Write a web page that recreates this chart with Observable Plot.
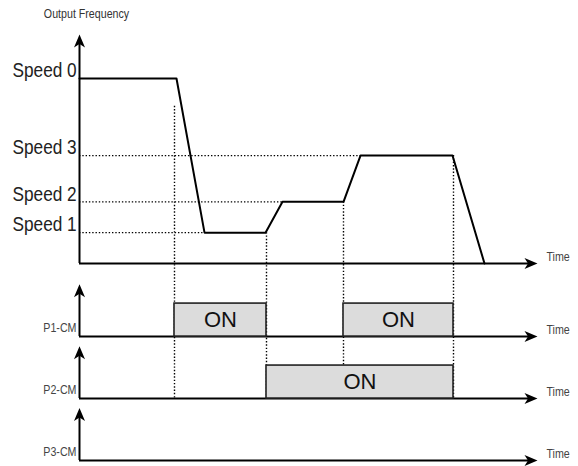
<!DOCTYPE html>
<html><head><meta charset="utf-8">
<script src="https://cdn.jsdelivr.net/npm/d3@7"></script>
<script src="https://cdn.jsdelivr.net/npm/@observablehq/plot@0.6"></script>
<style>html,body{margin:0;padding:0;background:#fff;}</style>
</head><body><div id="chart"></div>
<script>
// ---- data ----
const speedNames = ["Speed 0", "Speed 1", "Speed 2", "Speed 3"];
const speedValues = [60, 10, 20, 35];
const speedReached = [0, 12.5, 20.3, 28.1];
const profileTime = [0, 9.7, 12.5, 18.6, 20.3, 26.4, 28.1, 37.3, 40.5];
const profileFreq = [60, 60, 10, 10, 20, 20, 35, 35, 0];
const switchTimes = [9.5, 18.7, 26.4, 37.4];
const switchFrom = [51, 10, 20, 35];
const signalNames = ["P1-CM", "P2-CM", "P3-CM"];
const onStarts = [[9.5, 26.4], [18.7], []];
const onEnds = [[18.7, 37.4], [37.4], []];
const onText = "ON";
const timeText = "Time";
const yTitle = "Output Frequency";
const timeEnd = 45.8;

// ---- layout ----
const W = 578, H = 466;
const k = 185 / 60;             // px per unit in y
const base0 = 263;              // px of main baseline
const laneBase = [-23.7, -43.8, -63.9];
const onH = 10.7;
const mainTop = 74.3, laneTop = 17;
const font = "'Liberation Sans', Arial, sans-serif";

const refs = speedNames.slice(1).map((n, i) => ({f: speedValues[i + 1], t: speedReached[i + 1]}));
const profile = profileTime.map((t, i) => ({t, f: profileFreq[i]}));
const p2top = laneBase[1] + onH;
const switchTo = [laneBase[1], laneBase[1], p2top, laneBase[1]];
const switches = switchTimes.map((t, i) => ({t, y1: switchFrom[i], y2: switchTo[i]}));
const boxes = [];
onStarts.forEach((arr, j) => arr.forEach((s, i) => boxes.push({x1: s, x2: onEnds[j][i], y1: laneBase[j], y2: laneBase[j] + onH})));
const baselines = [0, ...laneBase];
const tops = [mainTop, laneTop, laneTop, laneTop].map((h, i) => baselines[i] + h);
const xHeadBack = 0.7, yHeadBack = 2.5;

const arrowUp = {draw(ctx) { ctx.moveTo(0, 0); ctx.lineTo(-5.5, 13); ctx.lineTo(0, 9.5); ctx.lineTo(5.5, 13); ctx.closePath(); }};
const arrowRight = {draw(ctx) { ctx.moveTo(0, 0); ctx.lineTo(-13, -5.5); ctx.lineTo(-9.5, 0); ctx.lineTo(-13, 5.5); ctx.closePath(); }};

const dotted = {stroke: "#000", strokeWidth: 1.4, strokeDasharray: "1.4,1.9"};

const chart = Plot.plot({
  width: W, height: H,
  margin: 0,
  x: {domain: [0, 46], range: [79, 539], axis: null},
  y: {domain: [-(H - base0) / k, base0 / k], range: [H, 0], axis: null},
  marks: [
    Plot.ruleY(refs, {y: "f", x1: 0, x2: "t", ...dotted}),
    Plot.ruleX(switches, {x: "t", y1: "y1", y2: "y2", ...dotted}),
    Plot.ruleY(baselines, {y: d => d, x1: 0, x2: timeEnd - xHeadBack, stroke: "#000", strokeWidth: 2}),
    Plot.ruleX(baselines, {x: 0, y1: d => d, y2: (d, i) => tops[i] - yHeadBack, stroke: "#000", strokeWidth: 2}),
    Plot.rect(boxes, {x1: "x1", x2: "x2", y1: "y1", y2: "y2", fill: "#dcdcdc", stroke: "#222", strokeWidth: 1.6}),
    Plot.text(boxes, {x: d => (d.x1 + d.x2) / 2, y: d => (d.y1 + d.y2) / 2, text: () => onText, fontFamily: font, fontSize: 22, fill: "#111"}),
    Plot.line(profile, {x: "t", y: "f", stroke: "#000", strokeWidth: 2}),
    Plot.dot(tops, {x: 0, y: d => d, symbol: arrowUp, fill: "#000", stroke: "none", r: 5}),
    Plot.dot(baselines, {x: timeEnd, y: d => d, symbol: arrowRight, fill: "#000", stroke: "none", r: 5}),
    Plot.text(speedNames, {x: 0, y: (d, i) => speedValues[i], text: d => d, textAnchor: "start", dx: -67, dy: -8, fontFamily: font, fontSize: 21, fill: "#222", className: "narrow"}),
    Plot.text(signalNames, {x: 0, y: (d, i) => laneBase[i], text: d => d, textAnchor: "end", dx: -3, dy: -9, fontFamily: font, fontSize: 13, fill: "#444", className: "narrow"}),
    Plot.text(baselines, {x: timeEnd, y: d => d, text: () => timeText, textAnchor: "start", dx: 9, dy: -6.5, fontFamily: font, fontSize: 13, fill: "#444", className: "narrow"}),
    Plot.text([yTitle], {x: 0, y: 80.9, text: d => d, textAnchor: "middle", dx: 7, fontFamily: font, fontSize: 13, fill: "#333", className: "narrow"})
  ]
});
document.getElementById("chart").appendChild(chart);
// condensed look: compress the label glyphs horizontally
d3.select(chart).selectAll(".narrow text").each(function() {
  const w = this.getComputedTextLength();
  this.setAttribute("textLength", (w * 0.82).toFixed(1));
  this.setAttribute("lengthAdjust", "spacingAndGlyphs");
});
</script>
</body></html>
